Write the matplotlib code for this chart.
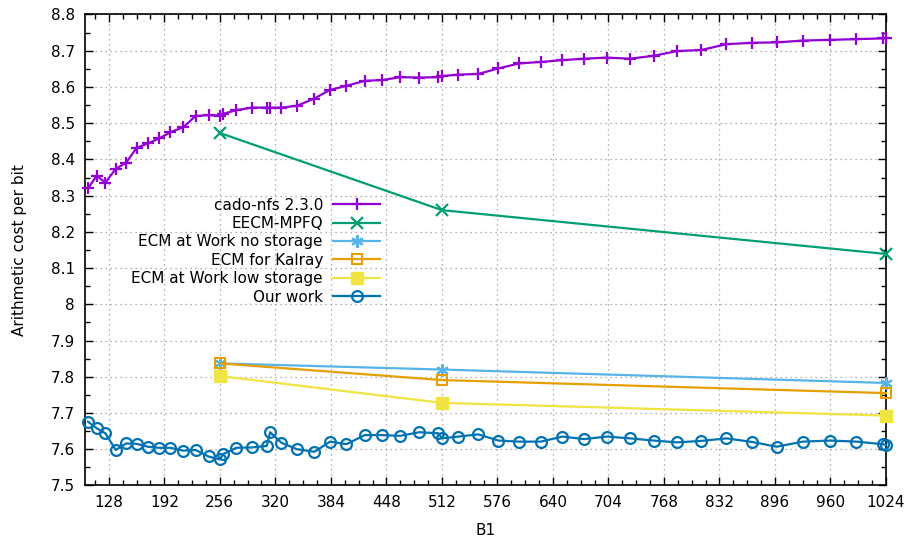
import matplotlib
matplotlib.use('Agg')
import matplotlib.pyplot as plt
from matplotlib.ticker import MultipleLocator, FormatStrFormatter

# B1 values for cado-nfs and our work
b1 = [104, 114, 124, 136, 148, 160, 173, 186, 199, 214, 228, 243, 256, 260,
      275, 293, 310, 314, 327, 345, 365, 383, 402, 423, 443, 464, 486, 508,
      512, 531, 554, 577, 601, 626, 651, 676, 702, 729, 756, 783, 811, 840,
      870, 898, 928, 960, 990, 1020, 1024]
cado = [8.320, 8.355, 8.336, 8.374, 8.391, 8.432, 8.444, 8.458, 8.475, 8.489,
        8.520, 8.522, 8.521, 8.526, 8.536, 8.543, 8.543, 8.543, 8.543, 8.548,
        8.568, 8.592, 8.603, 8.617, 8.619, 8.627, 8.626, 8.627, 8.630, 8.634,
        8.636, 8.651, 8.665, 8.669, 8.674, 8.678, 8.681, 8.678, 8.686, 8.699,
        8.702, 8.718, 8.722, 8.723, 8.728, 8.730, 8.732, 8.734, 8.735]
ours = [7.676, 7.658, 7.644, 7.598, 7.616, 7.615, 7.607, 7.604, 7.604, 7.596,
        7.598, 7.580, 7.572, 7.587, 7.604, 7.605, 7.609, 7.647, 7.618, 7.600,
        7.593, 7.621, 7.614, 7.639, 7.639, 7.637, 7.647, 7.644, 7.630, 7.635,
        7.641, 7.624, 7.621, 7.621, 7.635, 7.628, 7.635, 7.630, 7.624, 7.619,
        7.623, 7.630, 7.620, 7.607, 7.621, 7.624, 7.621, 7.614, 7.612]

# other implementations, only at 256, 512, 1024
b1_other = [256, 512, 1024]
eecm = [8.473, 8.260, 8.139]
atwork_nostorage = [7.837, 7.820, 7.783]
kalray = [7.837, 7.791, 7.755]
atwork_lowstorage = [7.802, 7.728, 7.693]

plt.rcParams['font.family'] = ['DejaVu Sans']
plt.rcParams['font.size'] = 11

fig = plt.figure(figsize=(9.1, 5.39), dpi=100)
ax = fig.add_axes([0.0929, 0.0993, 0.8807, 0.8738])

lw = 1.6
ax.plot(b1, cado, color='#9400d3', lw=lw, marker='+', ms=8, mew=1.6,
        label='cado-nfs 2.3.0', clip_on=False, zorder=3)
ax.plot(b1_other, eecm, color='#009e73', lw=lw, marker='x', ms=8, mew=1.6,
        label='EECM-MPFQ', clip_on=False, zorder=3)
ax.plot(b1_other, atwork_nostorage, color='#56b4e9', lw=lw, marker=(6, 2, 0), ms=9, mew=1.5,
        label='ECM at Work no storage', clip_on=False, zorder=3)
ax.plot(b1_other, kalray, color='#e69f00', lw=lw, marker='s', ms=7.5, mew=1.5, mfc='none',
        label='ECM for Kalray', clip_on=False, zorder=3)
ax.plot(b1_other, atwork_lowstorage, color='#f0e442', lw=lw, marker='s', ms=8.5, mew=1,
        label='ECM at Work low storage', clip_on=False, zorder=3)
ax.plot(b1, ours, color='#0072b2', lw=lw, marker='o', ms=7.8, mew=1.6, mfc='none',
        label='Our work', clip_on=False, zorder=3)

ax.set_xlim(100, 1024)
ax.set_ylim(7.5, 8.8)
ax.xaxis.set_major_locator(MultipleLocator(64))
ax.xaxis.set_minor_locator(MultipleLocator(16))
ax.yaxis.set_major_locator(MultipleLocator(0.1))
ax.yaxis.set_minor_locator(MultipleLocator(0.05))
ax.yaxis.set_major_formatter(FormatStrFormatter('%g'))
ax.tick_params(which='both', direction='in', top=True, right=True, width=1)
ax.tick_params(which='major', length=6, pad=7)
ax.tick_params(which='minor', length=3.5)
ax.grid(True, which='major', linestyle=(0, (1, 3)), color='#999999', lw=0.9)
for s in ax.spines.values():
    s.set_linewidth(1.2)

ax.set_xlabel('B1', labelpad=9)
ax.set_ylabel('Arithmetic cost per bit', labelpad=17)

ax.legend(loc='upper right', bbox_to_anchor=(0.369, 0.611), markerfirst=False,
          frameon=False, handlelength=3.1, handletextpad=0.65, labelspacing=0.22,
          borderaxespad=0, borderpad=0)

fig.savefig('out.png', dpi=100)
